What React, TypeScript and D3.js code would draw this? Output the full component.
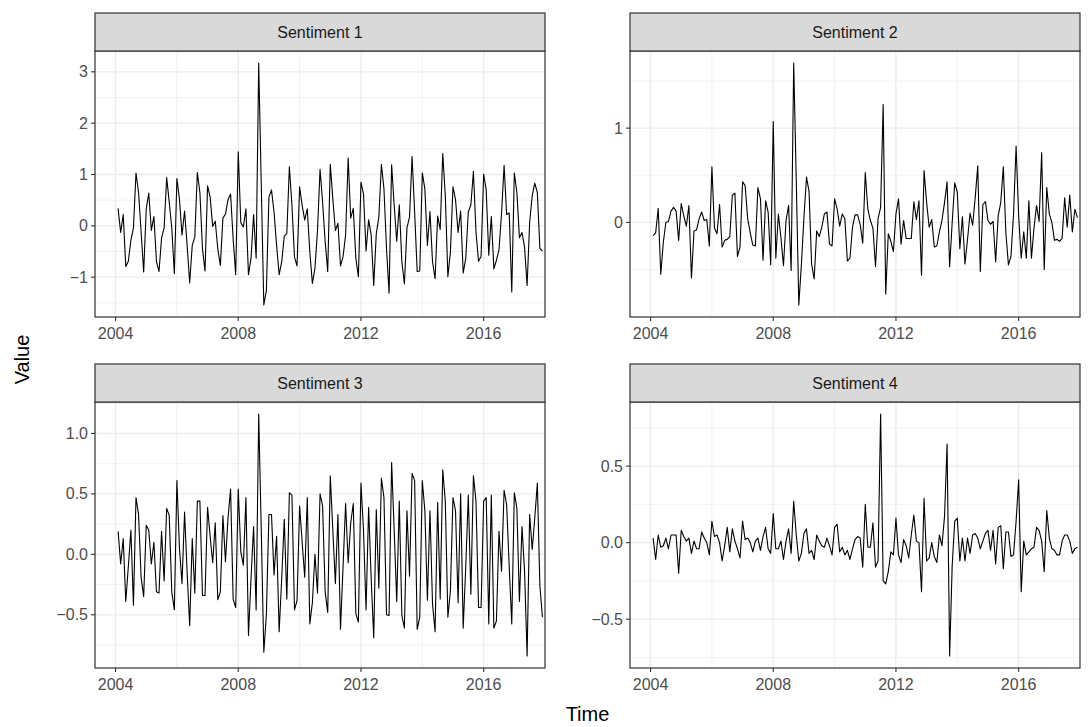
import * as d3 from "d3";

// monthly values, Feb 2004 .. Dec 2017
const sentiment1 = [
  0.34, -0.13, 0.22, -0.79, -0.69, -0.28, -0.04, 1.03, 0.65, -0.12,
  -0.9, 0.33, 0.64, -0.09, 0.18, -0.69, -0.89, -0.24, -0.04, 0.94,
  0.46, -0.04, -0.93, 0.92, 0.52, -0.18, 0.29, -0.38, -1.11, -0.38,
  -0.22, 1.04, 0.65, -0.44, -0.88, 0.78, 0.56, -0.01, 0.09, -0.45,
  -0.77, 0.15, 0.23, 0.51, 0.62, -0.25, -0.95, 1.44, 0.06, -0.02,
  0.33, -0.95, -0.63, 0.22, -0.63, 3.17, 0.8, -1.54, -1.26, 0.56,
  0.7, 0.27, -0.38, -0.95, -0.7, -0.2, -0.15, 1.15, 0.4, -0.61,
  -0.78, 0.76, 0.4, 0.11, 0.33, -0.51, -1.12, -0.83, -0.09, 1.1,
  0.46, -0.31, -0.89, 1.2, 0.52, -0.09, 0.05, -0.78, -0.6, -0.18,
  1.32, 0.15, 0.34, -0.63, -0.99, 0.85, 0.62, -0.49, 0.12, -0.18,
  -1.16, -0.15, 0.17, 1.2, 0.72, -0.44, -1.31, 1.19, 0.4, -0.3,
  0.41, -0.7, -1.13, -0.04, 0.17, 1.35, 0.27, -0.89, -0.88, 1.03,
  0.72, -0.38, 0.28, -0.7, -1.03, 0.19, -0.07, 1.41, 0.59, -0.99,
  -0.51, 0.76, 0.51, -0.13, 0.29, -0.92, -0.63, 0.27, 0.41, 1.06,
  -0.12, -0.69, -0.59, 1.01, 0.7, -0.57, 0.18, -0.84, -0.67, -0.47,
  0.24, 1.18, 0.22, 0.25, -1.29, 1.03, 0.65, -0.23, -0.13, -0.41,
  -1.16, 0.07, 0.59, 0.83, 0.65, -0.44, -0.49,
];

const sentiment2 = [
  -0.14, -0.11, 0.15, -0.55, -0.21, 0.0, 0.01, 0.12, 0.16, 0.12,
  -0.19, 0.2, 0.07, -0.04, 0.18, -0.59, -0.09, -0.08, 0.04, 0.11,
  0.02, 0.03, -0.25, 0.59, -0.06, -0.12, 0.19, -0.26, -0.19, -0.18,
  -0.15, 0.29, 0.31, -0.36, -0.26, 0.43, 0.39, 0.04, -0.11, -0.24,
  -0.25, 0.37, 0.25, -0.4, 0.23, 0.11, -0.45, 1.07, -0.38, 0.09,
  -0.16, -0.46, 0.02, 0.18, -0.51, 1.69, 0.45, -0.875, -0.45, 0.05,
  0.48, 0.33, -0.44, -0.6, -0.09, -0.15, -0.05, 0.09, 0.11, -0.23,
  -0.25, 0.25, 0.14, -0.04, 0.09, 0.04, -0.41, -0.38, -0.05, 0.08,
  0.08, -0.02, -0.22, 0.53, 0.14, 0.02, -0.06, -0.47, 0.04, 0.16,
  1.25, -0.76, -0.12, -0.2, -0.31, 0.09, 0.25, -0.23, 0.02, -0.17,
  -0.17, -0.17, 0.22, 0.03, 0.23, -0.56, 0.55, 0.21, -0.05, 0.03,
  -0.26, -0.25, -0.1, 0.02, 0.21, 0.43, -0.47, 0.0, 0.42, 0.32,
  -0.28, 0.06, -0.44, -0.18, 0.1, -0.03, 0.26, 0.6, -0.52, 0.19,
  0.22, 0.02, -0.02, 0.01, -0.42, 0.07, 0.21, 0.59, -0.11, -0.45,
  -0.36, 0.09, 0.81, 0.07, -0.38, -0.1, -0.38, 0.23, -0.38, -0.06,
  0.18, 0.01, 0.74, -0.5, 0.37, 0.09, 0.0, -0.19, -0.18, -0.2,
  -0.17, 0.26, -0.05, 0.29, -0.1, 0.14, 0.05,
];

const sentiment3 = [
  0.19, -0.08, 0.13, -0.39, -0.1, 0.2, -0.42, 0.47, 0.33, -0.19,
  -0.35, 0.24, 0.2, -0.08, 0.1, -0.31, -0.32, 0.19, -0.22, 0.38,
  0.32, -0.31, -0.46, 0.61, 0.05, -0.24, 0.35, -0.15, -0.59, 0.13,
  -0.32, 0.44, 0.44, -0.34, -0.34, 0.39, 0.15, -0.07, 0.26, -0.375,
  -0.31, 0.32, -0.06, 0.3, 0.54, -0.37, -0.44, 0.54, 0.02, -0.09,
  0.47, -0.67, -0.2, 0.23, -0.46, 1.16, 0.2, -0.81, -0.5, 0.33,
  0.33, -0.17, 0.15, -0.64, -0.2, 0.29, -0.37, 0.51, 0.49, -0.46,
  -0.38, 0.4, 0.1, -0.19, 0.47, -0.575, -0.4, 0.0, -0.32, 0.5,
  0.4, -0.31, -0.48, 0.65, 0.2, -0.24, 0.33, -0.62, -0.1, 0.42,
  -0.07, 0.26, 0.42, -0.49, -0.56, 0.59, 0.2, -0.46, 0.39, -0.2,
  -0.69, 0.37, -0.28, 0.63, 0.47, -0.5, -0.505, 0.76, 0.2, -0.39,
  0.44, -0.505, -0.61, 0.36, -0.18, 0.67, 0.61, -0.62, -0.52, 0.61,
  0.36, -0.38, 0.36, -0.41, -0.64, 0.43, -0.37, 0.7, 0.44, -0.52,
  -0.3, 0.47, 0.36, -0.4, 0.5, -0.61, -0.1, 0.49, -0.33, 0.65,
  0.44, -0.44, -0.44, 0.44, 0.47, -0.575, 0.49, -0.61, -0.55, 0.19,
  -0.14, 0.53, 0.41, -0.1, -0.575, 0.51, 0.38, -0.39, 0.23, -0.14,
  -0.84, 0.33, 0.04, 0.3, 0.59, -0.26, -0.52,
];

const sentiment4 = [
  0.03, -0.11, 0.05, -0.03, -0.02, 0.03, -0.04, 0.05, 0.05, 0.05,
  -0.2, 0.08, 0.04, 0.01, 0.03, -0.07, 0.01, -0.04, -0.04, 0.07,
  0.03, 0.0, -0.08, 0.14, 0.04, 0.05, 0.0, -0.12, -0.02, 0.1,
  -0.06, 0.09, 0.01, -0.04, -0.1, 0.14, 0.02, 0.03, 0.0, -0.06,
  0.01, 0.03, -0.05, 0.04, 0.1, -0.04, -0.07, 0.19, -0.04, -0.04,
  0.01, -0.11, 0.01, 0.09, -0.07, 0.27, 0.05, -0.12, -0.07, 0.06,
  0.09, -0.07, -0.05, -0.11, 0.05, 0.01, -0.02, -0.03, 0.03, -0.02,
  -0.08, 0.1, 0.12, -0.06, -0.03, -0.08, -0.05, -0.11, -0.04, 0.02,
  0.04, 0.03, -0.16, 0.25, -0.03, -0.03, 0.13, -0.16, -0.12, 0.84,
  -0.25, -0.27, -0.19, -0.06, -0.08, 0.16, -0.08, -0.13, 0.02, -0.02,
  -0.1, 0.05, 0.18, 0.01, 0.0, -0.32, 0.29, -0.12, -0.1, 0.0,
  -0.09, -0.13, 0.05, -0.02, 0.17, 0.645, -0.74, -0.15, 0.14, 0.16,
  -0.12, 0.03, -0.12, 0.03, -0.07, 0.05, 0.06, 0.03, -0.04, 0.01,
  0.06, 0.08, -0.05, 0.08, -0.14, 0.1, 0.11, -0.17, 0.07, 0.07,
  -0.09, -0.08, 0.14, 0.41, -0.32, 0.01, -0.08, -0.06, -0.04, -0.03,
  0.1, 0.08, 0.01, -0.19, 0.21, 0.03, -0.04, -0.05, -0.08, -0.08,
  0.01, 0.05, 0.05, 0.01, -0.07, -0.04, -0.03,
];

const panelNames = ["Sentiment 1", "Sentiment 2", "Sentiment 3", "Sentiment 4"];
const yearTicks = [2004, 2008, 2012, 2016];
const yearMinor = [2006, 2010, 2014, 2018];
const valueTicks = [
  [-1, 0, 1, 2, 3],
  [0, 1],
  [-0.5, 0, 0.5, 1],
  [-0.5, 0, 0.5],
];
const valueFormats = ["d", "d", ".1f", ".1f"];

const series = [sentiment1, sentiment2, sentiment3, sentiment4];
// decimal year of each monthly observation (first one is Feb 2004)
const months = sentiment1.map((_, i) => 2004 + (i + 1) / 12);

const W = 1088;
const H = 727;
const colX = [95, 630];
const rowY = [51, 402];
const panelW = 450;
const panelH = 266;
const stripH = 38;
const font = "'Liberation Sans', Arial, Helvetica, sans-serif";

function Panel({ idx }: { idx: number }) {
  const values = series[idx];
  const left = colX[idx % 2];
  const top = rowY[Math.floor(idx / 2)];
  const bottom = top + panelH;

  const x = d3.scaleLinear().domain([2003.33, 2018]).range([left, left + panelW]);
  const [lo, hi] = d3.extent(values) as [number, number];
  const pad = (hi - lo) * 0.05;
  const y = d3.scaleLinear().domain([lo - pad, hi + pad]).range([bottom, top]);

  const ticks = valueTicks[idx];
  const step = ticks[1] - ticks[0];
  const [d0, d1] = y.domain();
  const minor = d3
    .range(-10, 10)
    .map((k) => ticks[0] + (k + 0.5) * step)
    .filter((v) => v > d0 && v < d1);
  const fmt = d3.format(valueFormats[idx]);

  const path = d3
    .line<number>()
    .x((_, i) => x(months[i]))
    .y((d) => y(d));

  return (
    <g>
      <rect x={left} y={top} width={panelW} height={panelH} fill="#fff" />
      {minor.map((v) => (
        <line key={"ym" + v} x1={left} x2={left + panelW} y1={y(v)} y2={y(v)} stroke="#EBEBEB" strokeWidth={0.7} />
      ))}
      {yearMinor
        .filter((v) => v > 2003.33 && v < 2018)
        .map((v) => (
          <line key={"xm" + v} x1={x(v)} x2={x(v)} y1={top} y2={bottom} stroke="#EBEBEB" strokeWidth={0.7} />
        ))}
      {ticks.map((v) => (
        <line key={"yM" + v} x1={left} x2={left + panelW} y1={y(v)} y2={y(v)} stroke="#EBEBEB" strokeWidth={1.3} />
      ))}
      {yearTicks.map((v) => (
        <line key={"xM" + v} x1={x(v)} x2={x(v)} y1={top} y2={bottom} stroke="#EBEBEB" strokeWidth={1.3} />
      ))}
      <path d={path(values) || ""} fill="none" stroke="#000" strokeWidth={1.1} strokeLinejoin="round" />
      <rect x={left} y={top} width={panelW} height={panelH} fill="none" stroke="#333333" strokeWidth={1.2} />

      <rect x={left} y={top - stripH} width={panelW} height={stripH} fill="#D9D9D9" stroke="#333333" strokeWidth={1.2} />
      <text x={left + panelW / 2} y={top - stripH / 2} dy="0.35em" textAnchor="middle" fontSize={16} fill="#1A1A1A">
        {panelNames[idx]}
      </text>

      {ticks.map((v) => (
        <g key={"yt" + v}>
          <line x1={left - 4} x2={left} y1={y(v)} y2={y(v)} stroke="#333333" strokeWidth={1.1} />
          <text x={left - 7} y={y(v)} dy="0.35em" textAnchor="end" fontSize={16} fill="#4D4D4D">
            {fmt(v).replace("-", "\u2212")}
          </text>
        </g>
      ))}
      {yearTicks.map((v) => (
        <g key={"xt" + v}>
          <line x1={x(v)} x2={x(v)} y1={bottom} y2={bottom + 4} stroke="#333333" strokeWidth={1.1} />
          <text x={x(v)} y={bottom + 22} textAnchor="middle" fontSize={16} fill="#4D4D4D">
            {v}
          </text>
        </g>
      ))}
    </g>
  );
}

export default function App() {
  return (
    <svg
      width={W}
      height={H}
      style={{ position: "absolute", left: 0, top: 0, background: "#fff" }}
      fontFamily={font}
    >
      <rect width={W} height={H} fill="#fff" />
      {series.map((_, i) => (
        <Panel key={i} idx={i} />
      ))}
      <text
        transform={`translate(22, ${(rowY[0] + rowY[1] + panelH) / 2}) rotate(-90)`}
        dy="0.35em"
        textAnchor="middle"
        fontSize={20}
        fill="#000"
      >
        Value
      </text>
      <text x={(colX[0] + colX[1] + panelW) / 2} y={714} dy="0.35em" textAnchor="middle" fontSize={20} fill="#000">
        Time
      </text>
    </svg>
  );
}
